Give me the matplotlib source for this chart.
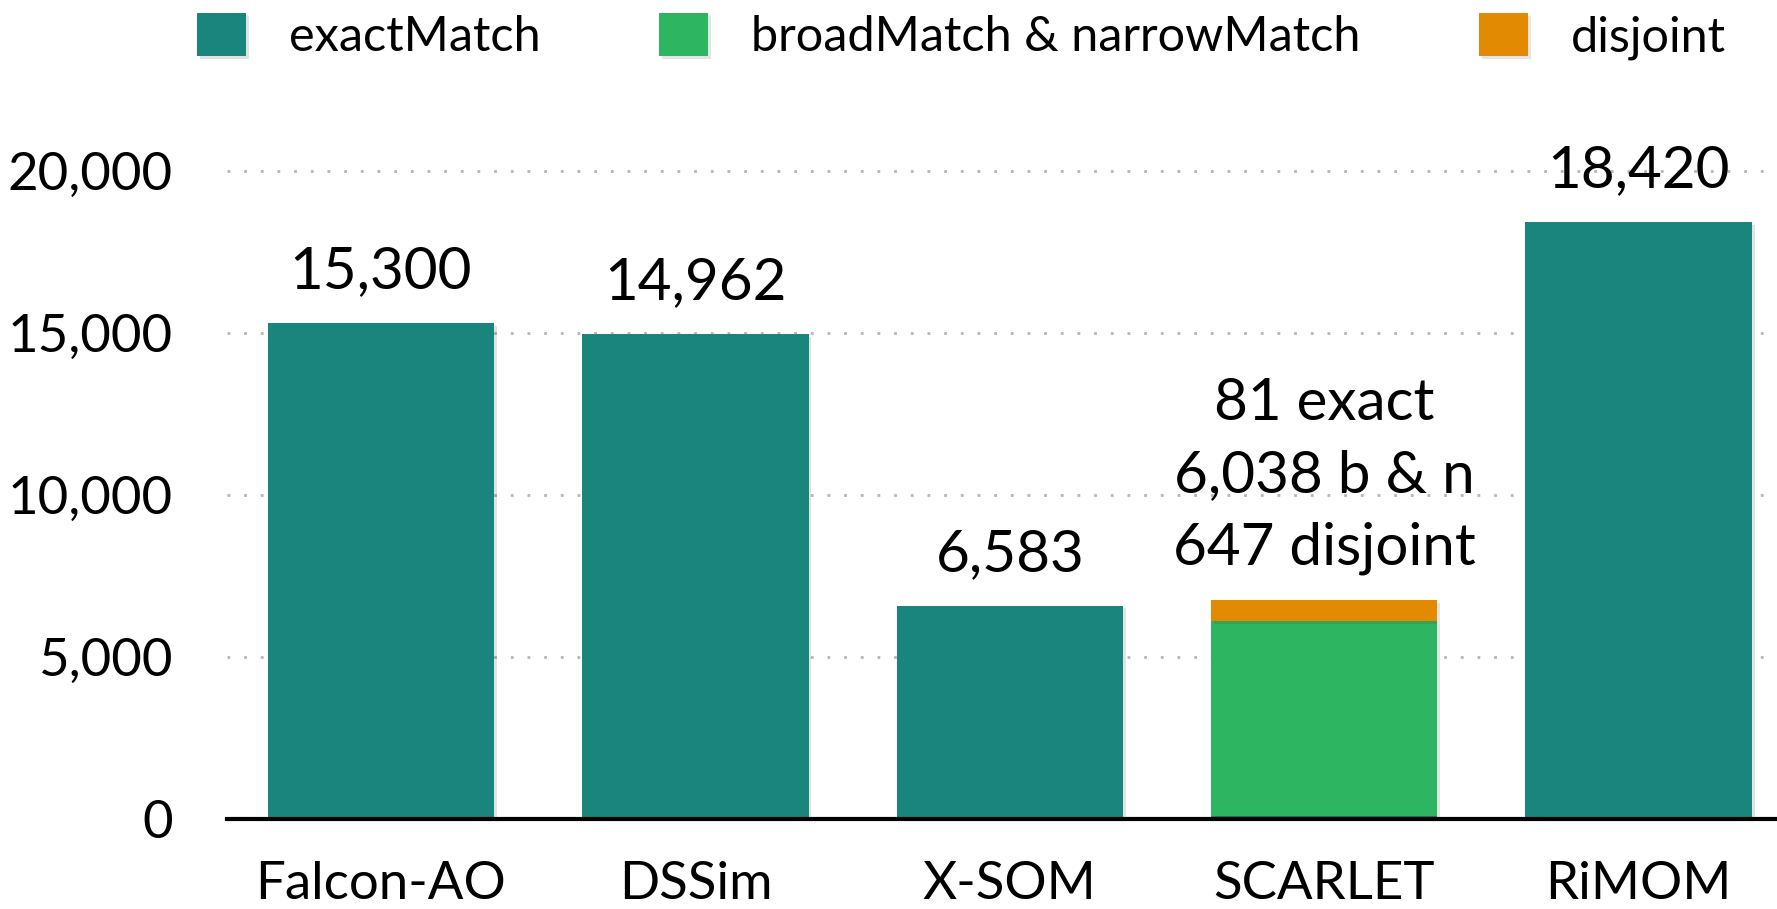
import matplotlib.pyplot as plt
import matplotlib.patheffects as pe

plt.rcParams['font.family'] = ['Lato', 'DejaVu Sans']

# data
systems = ["Falcon-AO", "DSSim", "X-SOM", "SCARLET", "RiMOM"]
exact_match = [15300, 14962, 6583, 81, 18420]
broad_narrow = [0, 0, 0, 6038, 0]
disjoint = [0, 0, 0, 647, 0]
bar_labels = ["15,300", "14,962", "6,583", "81 exact\n6,038 b & n\n647 disjoint", "18,420"]
y_ticks = [0, 5000, 10000, 15000, 20000]
y_tick_labels = ["0", "5,000", "10,000", "15,000", "20,000"]

teal = "#1a857d"
green = "#2eb562"
orange = "#e38a03"

fig = plt.figure(figsize=(17.77, 9.09), dpi=100)
ax = fig.add_axes([0.1277, 0.099, 0.8723, 0.769])

x = range(len(systems))
shadow = [pe.SimplePatchShadow(offset=(2, -2), alpha=0.12), pe.Normal()]
b1 = ax.bar(x, exact_match, width=0.72, color=teal, label="exactMatch", zorder=3)
b2 = ax.bar(x, broad_narrow, width=0.72, bottom=exact_match, color=green,
            label="broadMatch & narrowMatch", zorder=3)
bottom2 = [a + b for a, b in zip(exact_match, broad_narrow)]
b3 = ax.bar(x, disjoint, width=0.72, bottom=bottom2, color=orange, label="disjoint", zorder=3)
for bars in (b1, b2, b3):
    for p in bars:
        p.set_path_effects(shadow)

# totals on top of each bar
totals = [a + b for a, b in zip(bottom2, disjoint)]
for i, (t, lab) in enumerate(zip(totals, bar_labels)):
    ax.annotate(lab, (i, t), xytext=(0, 18), textcoords="offset points",
                ha="center", va="bottom", fontsize=42, linespacing=1.45)

ax.set_xlim(-0.49, 4.44)
ax.set_ylim(0, 21574)
ax.set_yticks(y_ticks)
ax.set_yticklabels(y_tick_labels)
ax.set_xticks(list(x))
ax.set_xticklabels(systems)
ax.tick_params(axis="both", length=0, labelsize=38)
ax.tick_params(axis="y", pad=39)
ax.tick_params(axis="x", pad=30)

for y in y_ticks[1:]:
    ax.axhline(y, color="#b5b5b5", linestyle=(0, (1, 5)), linewidth=2, zorder=1)

for s in ["top", "right", "left"]:
    ax.spines[s].set_visible(False)
ax.spines["bottom"].set_linewidth(3)
ax.spines["bottom"].set_zorder(4)

fig.legend(handles=[b1, b2, b3], loc="center", bbox_to_anchor=(0.541, 0.96), ncol=3,
           frameon=False, fontsize=35, handlelength=1.0, handleheight=1.0,
           handletextpad=0.88, columnspacing=2.45)

fig.savefig("out.png", dpi=100)
